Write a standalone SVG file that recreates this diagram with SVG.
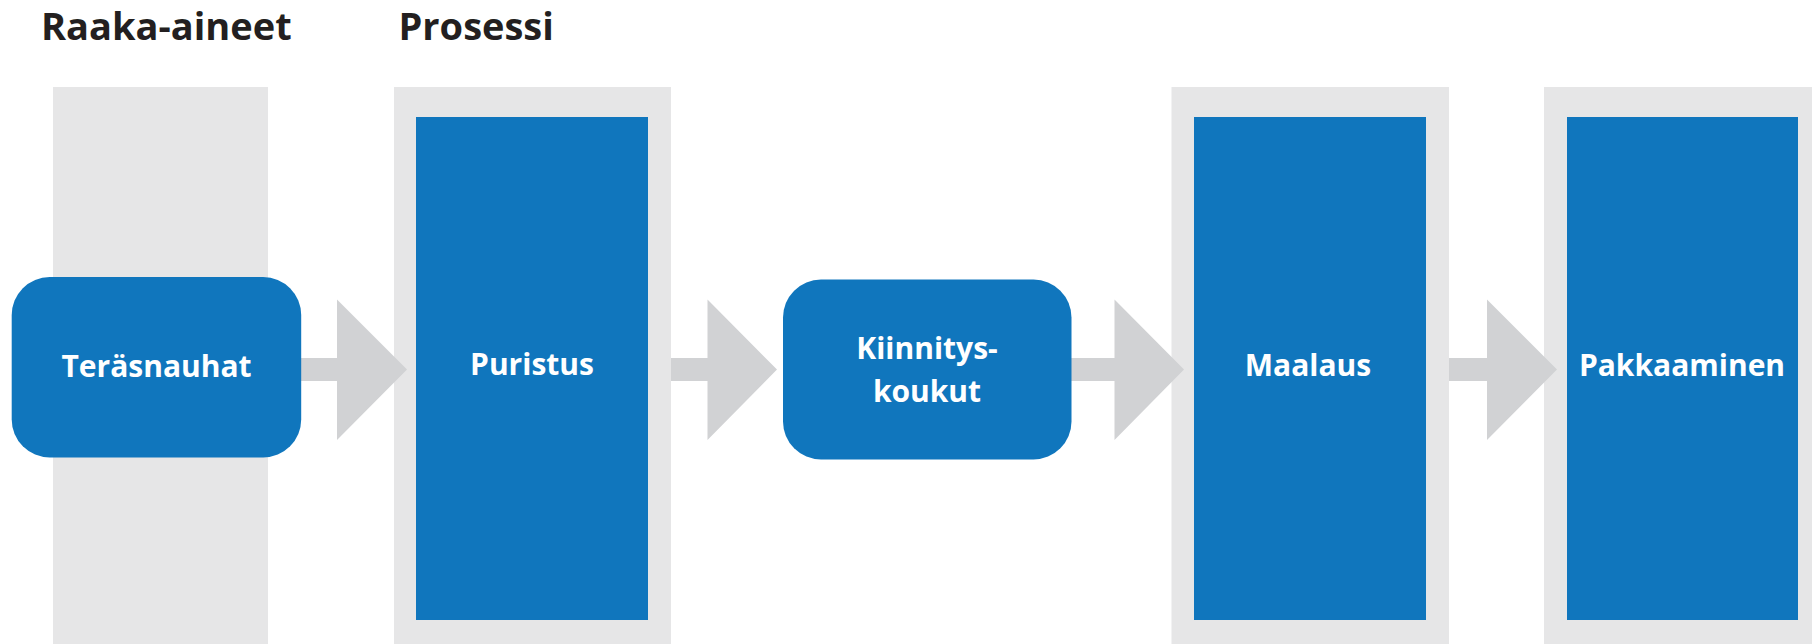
<svg xmlns="http://www.w3.org/2000/svg" width="1812" height="644" viewBox="0 0 1812 644">
<style>
.col{fill:#e6e6e7}
.blue{fill:#1076bd}
.arrow{fill:#d1d2d4}
.head{font-family:"Open Sans","Liberation Sans",sans-serif;font-weight:700;font-size:38px;fill:#231f20}
.lbl{font-family:"Open Sans","Liberation Sans",sans-serif;font-weight:700;font-size:30px;fill:#ffffff;text-anchor:middle}
</style>
<rect width="1812" height="644" fill="#ffffff"/>
<g id="headings">
<text class="head" x="41" y="40">Raaka-aineet</text>
<text class="head" x="398.5" y="40">Prosessi</text>
</g>
<g id="col-raaka-aineet">
<rect class="col" x="53" y="87" width="215" height="557"/>
</g>
<g id="node-puristus">
<rect class="col" x="394" y="87" width="277" height="557"/>
<rect class="blue" x="416" y="117" width="232" height="503"/>
<text class="lbl" x="532" y="375">Puristus</text>
</g>
<g id="node-maalaus">
<rect class="col" x="1171.5" y="87" width="277.5" height="557"/>
<rect class="blue" x="1194" y="117" width="232" height="503"/>
<text class="lbl" x="1308" y="376">Maalaus</text>
</g>
<g id="node-pakkaaminen">
<rect class="col" x="1544" y="87" width="268" height="557"/>
<rect class="blue" x="1567" y="117" width="231" height="503"/>
<text class="lbl" x="1682" y="376">Pakkaaminen</text>
</g>
<g id="connectors">
<polygon class="arrow" points="290,358 337,358 337,299.5 407,369.5 337,440 337,381 290,381"/>
<polygon class="arrow" points="671,358 707.5,358 707.5,299.5 777,369.5 707.5,440 707.5,381 671,381"/>
<polygon class="arrow" points="1060,358 1114.5,358 1114.5,299.5 1184,369.5 1114.5,440 1114.5,381 1060,381"/>
<polygon class="arrow" points="1449,358 1487,358 1487,299.5 1557,369.5 1487,440 1487,381 1449,381"/>
</g>
<g id="node-terasnauhat">
<rect class="blue" x="11.7" y="277" width="289.5" height="180.5" rx="38" ry="38"/>
<text class="lbl" x="156.5" y="377">Teräsnauhat</text>
</g>
<g id="node-kiinnityskoukut">
<rect class="blue" x="783" y="279.5" width="288.5" height="180" rx="38" ry="38"/>
<text class="lbl" x="927" y="359">Kiinnitys-</text>
<text class="lbl" x="927" y="402">koukut</text>
</g>
</svg>
